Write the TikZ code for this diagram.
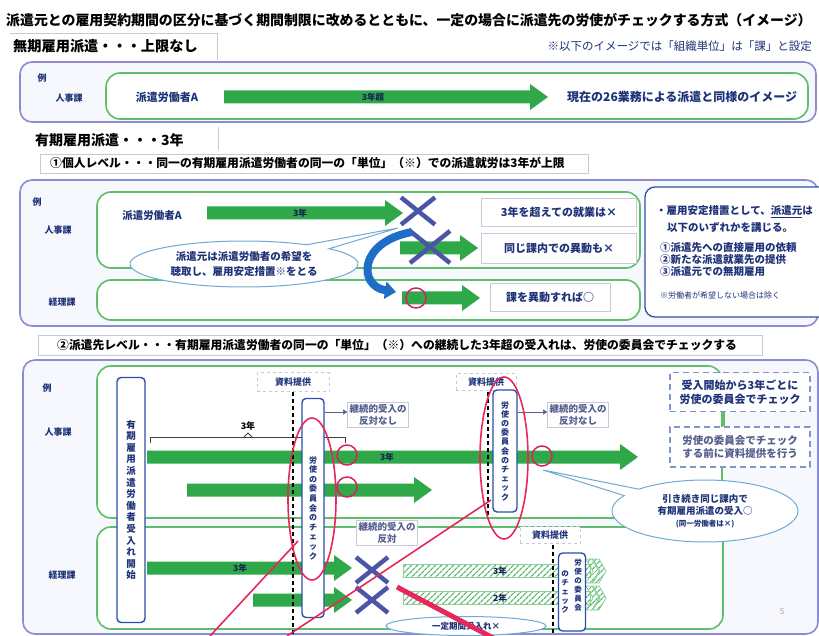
\documentclass[tikz,border=0pt]{standalone}
\usepackage{fontspec}
\setmainfont{Noto Sans CJK JP}
\usetikzlibrary{shapes.callouts,shapes.geometric,patterns.meta,arrows.meta}
\definecolor{agreen}{RGB}{46,168,72}
\definecolor{gline}{RGB}{95,190,105}
\definecolor{ppl}{RGB}{140,140,210}
\definecolor{tblue}{RGB}{30,50,120}
\definecolor{tgrey}{RGB}{85,95,140}
\definecolor{xcol}{RGB}{75,85,165}
\definecolor{redc}{RGB}{230,40,90}
\definecolor{vblue}{RGB}{40,80,170}
\definecolor{cline}{RGB}{110,170,215}
\definecolor{cblue}{RGB}{30,110,200}
\definecolor{faintc}{RGB}{200,200,215}
\definecolor{panelbg}{RGB}{247,248,253}
\newcommand{\GArrow}[3]{%
  \fill[agreen] (#1,#3-6.5) -- (#2-18,#3-6.5) -- (#2-18,#3-13) -- (#2,#3) -- (#2-18,#3+13) -- (#2-18,#3+6.5) -- (#1,#3+6.5) -- cycle;}
\newcommand{\HArrow}[3]{%
  \path[hatch] (#1,#3-6.5) rectangle (#2-16,#3+6.5);
  \path[hatch] (#2-20,#3-12) -- (#2-14,#3-12) -- (#2-7,#3) -- (#2-14,#3+12) -- (#2-20,#3+12) -- (#2-13,#3) -- cycle;
  \path[hatch] (#2-13,#3-12) -- (#2-7,#3-12) -- (#2,#3) -- (#2-7,#3+12) -- (#2-13,#3+12) -- (#2-6,#3) -- cycle;}
\newcommand{\XMark}[3]{%
  \draw[xcol, line width=4.5pt] (#1-#3,#2-#3*0.8) -- (#1+#3,#2+#3*0.8) (#1-#3,#2+#3*0.8) -- (#1+#3,#2-#3*0.8);}
\begin{document}
\begin{tikzpicture}[x=1pt,y=-1pt,
  lbl/.style={inner sep=0pt, text=tblue, font=\bfseries\fontsize{9}{11}\selectfont},
  alab/.style={inner sep=0pt, text=tblue!70!black, font=\bfseries\fontsize{8.5}{10}\selectfont},
  outer/.style={draw=ppl, line width=1.6pt, rounded corners=12pt, fill=panelbg},
  inner/.style={draw=gline, line width=1.6pt, rounded corners=14pt, fill=white},
  tbox/.style={draw=faintc, line width=0.6pt, fill=white, inner sep=0pt, text=tblue, font=\bfseries\fontsize{11}{13}\selectfont},
  gbox/.style={draw=faintc, line width=0.6pt, fill=white, inner sep=2pt, align=center, text=tgrey, font=\bfseries\fontsize{9.5}{12}\selectfont},
  sbox/.style={draw=faintc, dashed, line width=0.6pt, fill=white, inner sep=0pt, text=tblue, font=\bfseries\fontsize{9}{11}\selectfont},
  vbox/.style={draw=vblue, line width=1.4pt, rounded corners=4pt, fill=white, align=center, inner sep=0pt, text=tblue},
  dbox/.style={draw=vblue!60, dash pattern=on 6pt off 4pt, line width=1.2pt, fill=white, align=center, inner sep=0pt},
  redel/.style={draw=redc, line width=1.6pt},
  redcirc/.style={draw=redc!85!violet, line width=1.5pt},
  dline/.style={black, line width=1.3pt, dash pattern=on 4pt off 3pt},
  hatch/.style={pattern={Lines[angle=45,distance=4pt,line width=1.3pt]}, pattern color=agreen!80, draw=agreen!55, line width=0.8pt},
  bub/.style={ellipse callout, draw=cline, line width=1pt, fill=white, align=center, inner sep=0pt, text=tblue},
  rtxt/.style={anchor=west, inner sep=0pt, text=tblue, font=\bfseries\fontsize{10.5}{12}\selectfont},
  faint/.style={draw=faintc, line width=0.8pt}
  ]
\useasboundingbox (0,0) rectangle (819,636);
\fill[white] (0,0) rectangle (819,636);

% ---------- title ----------
\node[anchor=west, inner sep=0pt, font=\bfseries\fontsize{13.9}{16}\selectfont] (title) at (6,20)
  {派遣元との雇用契約期間の区分に基づく期間制限に改めるとともに、一定の場合に派遣先の労使がチェックする方式（イメージ）};

% ---------- unlimited ----------
\draw[faint] (10,33) -- (217,33) -- (217,60);
\node[anchor=west, inner sep=0pt, font=\bfseries\fontsize{14.2}{16}\selectfont] (mk) at (13,46) {無期雇用派遣・・・上限なし};
\node[anchor=east, inner sep=0pt, text=tblue, font=\fontsize{11.5}{13}\selectfont] (note) at (812,46) {※以下のイメージでは「組織単位」は「課」と設定};

\draw[outer] (20,62) rectangle (816,122);
\draw[inner] (106,73) rectangle (808,119);
\node[lbl] (ex1) at (42,78) {例};
\node[lbl] (jj1) at (69,98) {人事課};
\node[inner sep=0pt, text=tblue, font=\bfseries\fontsize{11}{13}\selectfont] (wa1) at (167,97) {派遣労働者A};
\GArrow{224}{548}{97}
\node[alab] (l1) at (373,97) {3年超};
\node[anchor=west, inner sep=0pt, text=tblue, font=\bfseries\fontsize{12}{14}\selectfont] (gen) at (567,97) {現在の26業務による派遣と同様のイメージ};

% ---------- fixed term ----------
\node[anchor=west, inner sep=0pt, font=\bfseries\fontsize{14}{16}\selectfont] (yk) at (35,140) {有期雇用派遣・・・3年};
\draw[faint] (218,127) -- (218,150);
\draw[faint] (40,154) rectangle (588,173);
\node[anchor=west, inner sep=0pt, font=\bfseries\fontsize{11.8}{14}\selectfont] (lv1) at (50,163) {①個人レベル・・・同一の有期雇用派遣労働者の同一の「単位」（※）での派遣就労は3年が上限};

\draw[outer] (20,180) rectangle (818,326);
\draw[inner] (97,192) rectangle (640,268);
\draw[inner] (97,280) rectangle (640,320);
\draw[draw=vblue, line width=1.3pt, rounded corners=10pt, fill=white] (645,187) rectangle (830,317);
\node[lbl] (ex2) at (37,202) {例};
\node[lbl] (jj2) at (58,230) {人事課};
\node[lbl] (kr2) at (62,302) {経理課};

\node[inner sep=0pt, text=tblue, font=\bfseries\fontsize{10.5}{12}\selectfont] (wa2) at (152,216) {派遣労働者A};
\GArrow{207}{403}{213}
\node[alab] (l2) at (300,213) {3年};
\XMark{418}{211}{17}
\node[tbox, minimum width=155, minimum height=28] (b1) at (559,212) {3年を超えての就業は×};
\GArrow{400}{478}{248}
\XMark{430}{247}{20}
\node[tbox, minimum width=155, minimum height=30] (b2) at (559,248) {同じ課内での異動も×};
\GArrow{402}{480}{298}
\draw[redcirc] (416,298) circle [radius=10];
\node[tbox, minimum width=120, minimum height=28] (b3) at (550,297) {課を異動すれば○};
\draw[cblue, line width=8pt, -{Triangle[length=11pt,width=17pt]}] (412,232) .. controls (358,242) and (358,286) .. (396,292);

\node[bub, minimum width=228, minimum height=46, callout absolute pointer={(398,228)}, font=\bfseries\fontsize{10.5}{15}\selectfont] (bub1) at (244,264)
  {派遣元は派遣労働者の希望を\\聴取し、雇用安定措置※をとる};

\node[rtxt] (r1) at (656,212) {・雇用安定措置として、\underline{派遣元}は};
\node[rtxt] (r2) at (667,228) {以下のいずれかを講じる。};
\node[rtxt] (r3) at (660,248) {①派遣先への直接雇用の依頼};
\node[rtxt] (r4) at (660,260) {②新たな派遣就業先の提供};
\node[rtxt] (r5) at (660,272) {③派遣元での無期雇用};
\node[anchor=west, inner sep=0pt, text=tblue, font=\fontsize{8}{10}\selectfont] (r6) at (660,295) {※労働者が希望しない場合は除く};

% ---------- level 2 ----------
\draw[faint] (38,335) rectangle (762,355);
\node[anchor=west, inner sep=0pt, font=\bfseries\fontsize{11.8}{14}\selectfont] (lv2) at (57,345) {②派遣先レベル・・・有期雇用派遣労働者の同一の「単位」（※）への継続した3年超の受入れは、労使の委員会でチェックする};

\draw[outer] (23,360) rectangle (818,634);
\draw[inner] (97,366) rectangle (722,518);
\draw[inner] (97,527) rectangle (723,629);
\node[lbl] (ex3) at (47,388) {例};
\node[lbl] (jj3) at (58,432) {人事課};
\node[lbl] (kr3) at (62,575) {経理課};

% arrows (jinji)
\GArrow{147}{638}{457}
\node[alab] (l3) at (387,457) {3年};
\GArrow{187}{432}{490}

% bracket 3 years
\draw[black!75, line width=0.8pt] (150,443) -- (150,437) -- (345,437) -- (345,443);
\draw[black!75, line width=0.8pt] (244,437) -- (248,433) -- (252,437);
\node[inner sep=0pt, font=\bfseries\fontsize{9}{11}\selectfont] (l3y) at (248,426) {3年};

% arrows (keiri)
\GArrow{147}{352}{568}
\node[alab] (l4) at (240,568) {3年};
\GArrow{253}{352}{600}
\XMark{372}{570}{16}
\XMark{372}{600}{16}
\HArrow{403}{606}{571}
\HArrow{403}{606}{598}
\node[alab] (l5) at (500,571) {3年};
\node[alab] (l6) at (500,598) {2年};

% data provision + dashed lines
\node[sbox, minimum width=72, minimum height=19] (s1) at (293,382) {資料提供};
\draw[dline] (s1.south) -- (293,634);
\node[sbox, minimum width=60, minimum height=17] (s2) at (486,382) {資料提供};
\draw[dline] (488,392) -- (488,515);
\node[sbox, minimum width=60, minimum height=17] (s3) at (550,535) {資料提供};
\draw[dline] (553,545) -- (553,634);

% start box
\node[vbox, minimum width=28, minimum height=245, font=\bfseries\fontsize{9.5}{11.6}\selectfont] (vb1) at (131,500)
  {有\\期\\雇\\用\\派\\遣\\労\\働\\者\\受\\入\\れ\\開\\始};
% committee boxes
\node[vbox, minimum width=22, minimum height=219, font=\bfseries\fontsize{8}{9.6}\selectfont] (vb2) at (313,508)
  {労\\使\\の\\委\\員\\会\\の\\チ\\ェ\\ッ\\ク};
\node[vbox, minimum width=24, minimum height=122, font=\bfseries\fontsize{8}{9.2}\selectfont] (vb3) at (505,451)
  {労\\使\\の\\委\\員\\会\\の\\チ\\ェ\\ッ\\ク};
\node[vbox, minimum width=27, minimum height=78] (vb4) at (572,592) {};
\node[inner sep=0pt, align=center, text=tblue, font=\bfseries\fontsize{7.5}{9}\selectfont] (vb4a) at (578,585) {労\\使\\の\\委\\員\\会};
\node[inner sep=0pt, align=center, text=tblue, font=\bfseries\fontsize{7.5}{9}\selectfont] (vb4b) at (565,592) {の\\チ\\ェ\\ッ\\ク};

% no-objection labels
\node[gbox] (k1) at (378,415) {継続的受入の\\反対なし};
\draw[tgrey, -{Triangle[length=4pt,width=5pt]}] (vb2.east |- 0,412) -- (k1.west |- 0,412);
\node[gbox] (k2) at (578,415) {継続的受入の\\反対なし};
\draw[tgrey, -{Triangle[length=4pt,width=5pt]}] (vb3.east |- 0,412) -- (k2.west |- 0,412);
\node[gbox] (k3) at (387,533) {継続的受入の\\反対};

% red marks
\draw[redel] (312,499) ellipse [x radius=24, y radius=81];
\draw[redel] (504,458) ellipse [x radius=24, y radius=81];
\draw[redcirc] (347,455) circle [radius=10];
\draw[redcirc] (347,487) circle [radius=10];
\draw[redcirc] (542,456) circle [radius=10];

% right dashed boxes
\node[dbox, minimum width=140, minimum height=39, text=tblue, font=\bfseries\fontsize{11}{14}\selectfont] (da) at (740,392) {受入開始から3年ごとに\\労使の委員会でチェック};
\node[dbox, minimum width=140, minimum height=40, text=tgrey, font=\bfseries\fontsize{10.5}{12.5}\selectfont] (db) at (740,447) {労使の委員会でチェック\\する前に資料提供を行う};
\coordinate (gx) at (724,0);
\draw[gline, line width=1.6pt] (da.south -| gx) -- (db.north -| gx);

% bubbles
\node[bub, minimum width=186, minimum height=62, callout absolute pointer={(543,470)}, font=\bfseries\fontsize{9.5}{12}\selectfont] (bub2) at (705,511)
  {引き続き同じ課内で\\有期雇用派遣の受入○\\{\fontsize{7.5}{9}\selectfont (同一労働者は×)}};
\node[ellipse, draw=cline, line width=1pt, fill=white, minimum width=160, minimum height=19, inner sep=0pt, text=tblue, font=\bfseries\fontsize{8.5}{10}\selectfont] (bub3) at (466,626) {一定期間受入れ×};

% red lines
\draw[redc, line width=1.6pt] (210,636) -- (298,541);
\draw[redc, line width=1.6pt] (287,636) -- (491,500);
\draw[redc, line width=5pt] (397,587) -- (497,640);

\node[inner sep=0pt, text=black!35, font=\fontsize{8}{10}\selectfont] (pg) at (782,612) {5};
\end{tikzpicture}
\end{document}
